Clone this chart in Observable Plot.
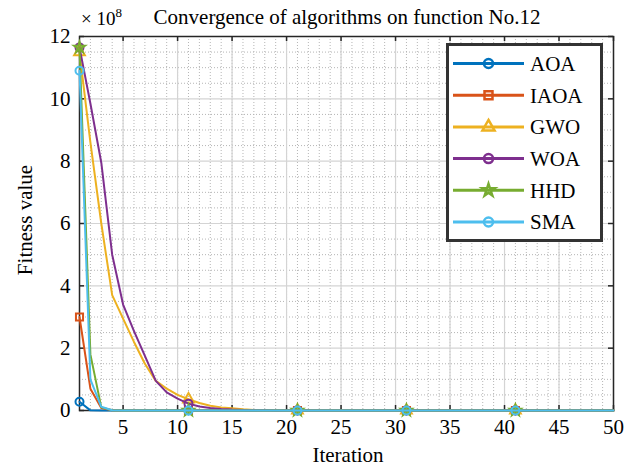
<!DOCTYPE html>
<html><head><meta charset="utf-8">
<script src="https://cdn.jsdelivr.net/npm/d3@7"></script>
<script src="https://cdn.jsdelivr.net/npm/@observablehq/plot@0.6"></script>
<style>
body{margin:0;background:#fff;}
#wrap{position:relative;width:639px;height:468px;font-family:"Liberation Serif","Times New Roman",serif;color:#000;overflow:hidden;}
#wrap svg, #wrap svg text{font-family:"Liberation Serif","Times New Roman",serif !important;}
.abs{position:absolute;white-space:nowrap;line-height:1;}
</style></head><body>
<div id="wrap"></div>
<script>
// ---- data (fitness values in units of 1e8) ----
const iterations = [1,2,3,4,5,6,7,8,9,10,11,12,13,14,15,16,17,18,19,20,21,22,23,24,25,26,27,28,29,30,31,32,33,34,35,36,37,38,39,40,41,42,43,44,45,46,47,48,49,50];
const seriesNames = ["AOA","IAOA","GWO","WOA","HHD","SMA"];
const seriesColors = ["#0072BD","#D95319","#EDB120","#7E2F8E","#77AC30","#4DBEEE"];
const seriesSymbols = ["circle","square","triangle","circle","star","circle"];
const aoaValues  = [0.28,0.004,0.001,0,0,0,0,0,0,0, 0,0,0,0,0,0,0,0,0,0, 0,0,0,0,0,0,0,0,0,0, 0,0,0,0,0,0,0,0,0,0, 0,0,0,0,0,0,0,0,0,0];
const iaoaValues = [3.0,0.7,0.08,0.01,0,0,0,0,0,0, 0,0,0,0,0,0,0,0,0,0, 0,0,0,0,0,0,0,0,0,0, 0,0,0,0,0,0,0,0,0,0, 0,0,0,0,0,0,0,0,0,0];
const gwoValues  = [11.5,8.6,6.0,3.7,2.95,2.2,1.5,0.95,0.7,0.5, 0.36,0.24,0.15,0.1,0.07,0.04,0.02,0.01,0.005,0.002, 0,0,0,0,0,0,0,0,0,0, 0,0,0,0,0,0,0,0,0,0, 0,0,0,0,0,0,0,0,0,0];
const woaValues  = [11.65,9.85,7.95,5.0,3.4,2.55,1.75,0.95,0.58,0.38, 0.22,0.13,0.08,0.05,0.03,0.02,0.01,0.005,0.002,0.001, 0,0,0,0,0,0,0,0,0,0, 0,0,0,0,0,0,0,0,0,0, 0,0,0,0,0,0,0,0,0,0];
const hhdValues  = [11.65,1.8,0.1,0.01,0,0,0,0,0,0, 0,0,0,0,0,0,0,0,0,0, 0,0,0,0,0,0,0,0,0,0, 0,0,0,0,0,0,0,0,0,0, 0,0,0,0,0,0,0,0,0,0];
const smaValues  = [10.9,1.0,0.12,0.01,0,0,0,0,0,0, 0,0,0,0,0,0,0,0,0,0, 0,0,0,0,0,0,0,0,0,0, 0,0,0,0,0,0,0,0,0,0, 0,0,0,0,0,0,0,0,0,0];
const markerIterations = [1,11,21,31,41];
const xTicks = [5,10,15,20,25,30,35,40,45,50];
const yTicks = [0,2,4,6,8,10,12];
const yMinorTicks = [0.5,1,1.5,2.5,3,3.5,4.5,5,5.5,6.5,7,7.5,8.5,9,9.5,10.5,11,11.5];
const titleText = "Convergence of algorithms on function No.12";
const xLabel = "Iteration";
const yLabel = "Fitness value";

// ---- build ----
const allValues = [aoaValues, iaoaValues, gwoValues, woaValues, hhdValues, smaValues];
const W = 639, H = 468, mL = 79, mR = 26, mT = 36, mB = 58;
const innerW = W - mL - mR, innerH = H - mT - mB;
const font = "Liberation Serif, Times New Roman, serif";
const symR = {circle: 4, square: 4, triangle: 4, star: 3.4};

const seriesMarks = seriesNames.flatMap((name, k) => {
  const rows = iterations.map((it, i) => ({x: it, y: allValues[k][i]}));
  const markRows = rows.filter(d => markerIterations.includes(d.x));
  return [
    Plot.line(rows, {x: "x", y: "y", stroke: seriesColors[k], strokeWidth: 2}),
    Plot.dot(markRows, {x: "x", y: "y", symbol: seriesSymbols[k], r: symR[seriesSymbols[k]], stroke: seriesColors[k], fill: "none", strokeWidth: 2})
  ];
});

const chart = Plot.plot({
  width: W, height: H,
  marginLeft: mL, marginRight: mR, marginTop: mT, marginBottom: mB,
  style: {fontFamily: font, fontSize: "21px", color: "#000", background: "transparent", overflow: "visible"},
  x: {domain: [1, 50]},
  y: {domain: [0, 12]},
  marks: [
    Plot.gridX(iterations, {stroke: "#b5b5b5", strokeOpacity: 1, strokeDasharray: "1,2"}),
    Plot.gridY(yMinorTicks, {stroke: "#b5b5b5", strokeOpacity: 1, strokeDasharray: "1,2"}),
    Plot.gridX(xTicks, {stroke: "#d4d4d4", strokeOpacity: 1, strokeWidth: 1.2}),
    Plot.gridY(yTicks, {stroke: "#d4d4d4", strokeOpacity: 1, strokeWidth: 1.2}),
    Plot.frame({stroke: "#262626", strokeWidth: 1.5}),
    Plot.ruleX(xTicks, {stroke: "#262626", strokeWidth: 1.5, insetTop: innerH - 5}),
    Plot.ruleX(xTicks, {stroke: "#262626", strokeWidth: 1.5, insetBottom: innerH - 5}),
    Plot.ruleY(yTicks, {stroke: "#262626", strokeWidth: 1.5, insetRight: innerW - 5}),
    Plot.ruleY(yTicks, {stroke: "#262626", strokeWidth: 1.5, insetLeft: innerW - 5}),
    Plot.axisX(xTicks, {tickSize: 0, tickPadding: 9, label: null, fill: "#000", fontFamily: font, fontSize: 21}),
    Plot.axisY(yTicks, {tickSize: 0, tickPadding: 9, label: null, fill: "#000", fontFamily: font, fontSize: 21}),
    ...seriesMarks
  ]
});
const wrap = document.getElementById("wrap");
wrap.appendChild(chart);

// title, multiplier and axis labels
function addText(html, css) {
  const d = document.createElement("div");
  d.className = "abs";
  d.innerHTML = html;
  Object.assign(d.style, css);
  wrap.appendChild(d);
  return d;
}
addText(titleText, {left: "47px", width: "600px", textAlign: "center", top: "7px", fontSize: "21px"});
addText("× 10<span style='font-size:13px;position:relative;top:-8px;'>8</span>", {left: "81px", top: "9px", fontSize: "19px"});
addText(xLabel, {left: "48px", width: "600px", textAlign: "center", top: "445px", fontSize: "21px"});
addText(yLabel, {left: "25px", top: "220px", fontSize: "21px", transform: "translate(-50%,-50%) rotate(-90deg)"});

// legend
const lg = d3.select(wrap).append("svg")
  .attr("width", 157).attr("height", 199)
  .style("position", "absolute").style("left", "446px").style("top", "43px");
lg.append("rect").attr("x", 1.5).attr("y", 1.5).attr("width", 154).attr("height", 196)
  .attr("fill", "#fff").attr("stroke", "#333").attr("stroke-width", 3);
const symMap = {circle: d3.symbolCircle, square: d3.symbolSquare, triangle: d3.symbolTriangle, star: d3.symbolStar};
seriesNames.forEach((name, k) => {
  const cy = 20.5 + k * 31.7;
  const g = lg.append("g");
  g.append("line").attr("x1", 7).attr("x2", 78).attr("y1", cy).attr("y2", cy)
    .attr("stroke", seriesColors[k]).attr("stroke-width", 3);
  const r = symR[seriesSymbols[k]] + 0.5;
  g.append("path").attr("d", d3.symbol(symMap[seriesSymbols[k]], Math.PI * r * r)())
    .attr("transform", `translate(42.5,${cy})`)
    .attr("fill", "none").attr("stroke", seriesColors[k]).attr("stroke-width", 2.5);
  g.append("text").attr("x", 84).attr("y", cy).attr("dy", "0.35em")
    .attr("font-family", font).attr("font-size", 21).attr("fill", "#000").text(name);
});
</script>
</body></html>
